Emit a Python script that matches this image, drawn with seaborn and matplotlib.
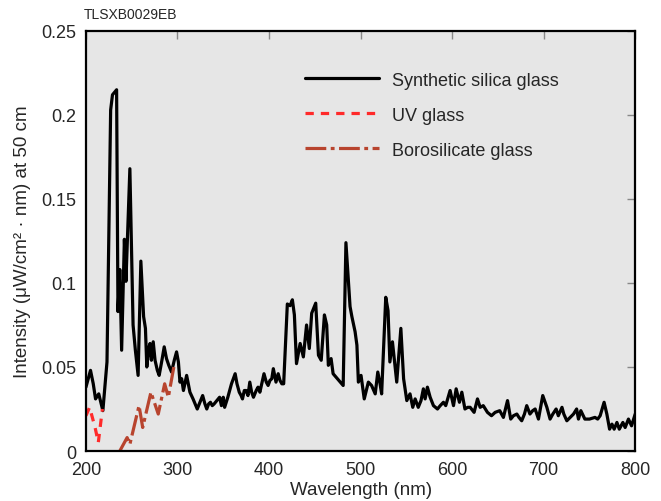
import numpy as np
import pandas as pd
import matplotlib
matplotlib.use("Agg")
import matplotlib.pyplot as plt
import seaborn as sns

# ---- data ----
silica_wl = [200, 203, 205, 208, 210.5, 214, 218.5, 223, 227, 229, 233.5, 235, 237, 239, 242, 243.7, 248,
             251.5, 254, 257, 260, 263, 265, 266.5, 268.5, 270, 271.5, 273.5, 275.5, 278, 280, 283, 285.5,
             288, 290.5, 293.5, 296.5, 299, 301, 302.7, 304.6, 306.5, 310, 313.6, 317, 321.6, 324.5, 327.5,
             330, 332, 334, 336, 338, 340, 343, 346, 348, 350, 351.5, 355, 359, 363, 365, 367.5, 369.5, 371,
             373, 375, 377, 379, 381, 383, 386, 388, 390, 392, 394.5, 397, 399, 401, 403, 404.7, 407.6, 410,
             412, 414, 416, 420, 423, 425.5, 427.7, 430, 434, 437.5, 441, 444, 446.6, 451, 454, 457, 460.5,
             463, 464.8, 467.8, 470, 481, 484, 488.5, 490.5, 494, 496, 497.6, 500.5, 504, 508.5, 512, 516,
             518.8, 521, 523, 527.5, 530, 532, 534.8, 539.5, 544, 547, 550.5, 554, 557, 559.6, 563, 566,
             568.6, 570.5, 573, 576, 579.6, 584, 587, 590.5, 593, 597.8, 601.5, 604.4, 608, 610.6, 614, 617,
             619.7, 624, 627.7, 630.6, 634, 638.6, 643, 647, 652, 656, 660.5, 664, 667, 670.7, 673, 676, 679,
             681.5, 685, 688, 690.7, 694.3, 699, 703.5, 707, 710, 713.6, 716, 720, 722, 725.3, 729, 732.6,
             736, 738, 740.6, 745, 750, 756, 759, 761.7, 766, 769, 772, 774.6, 777, 780, 782.6, 786.5, 789,
             792.6, 796, 800]
silica_int = [0.038, 0.044, 0.048, 0.040, 0.031, 0.034, 0.024, 0.053, 0.203, 0.212, 0.215, 0.083, 0.108, 0.060,
              0.126, 0.101, 0.168, 0.075, 0.060, 0.045, 0.113, 0.080, 0.073, 0.050, 0.061, 0.064, 0.054, 0.065,
              0.054, 0.048, 0.045, 0.054, 0.062, 0.055, 0.051, 0.047, 0.054, 0.059, 0.053, 0.041, 0.043, 0.036,
              0.045, 0.035, 0.031, 0.025, 0.029, 0.033, 0.028, 0.025, 0.028, 0.029, 0.027, 0.028, 0.030, 0.032,
              0.027, 0.032, 0.026, 0.032, 0.040, 0.046, 0.040, 0.035, 0.033, 0.031, 0.036, 0.036, 0.033, 0.041,
              0.035, 0.032, 0.036, 0.038, 0.035, 0.040, 0.046, 0.041, 0.039, 0.042, 0.043, 0.049, 0.041, 0.046,
              0.042, 0.040, 0.040, 0.0875, 0.0865, 0.090, 0.081, 0.052, 0.064, 0.056, 0.075, 0.061, 0.082, 0.088,
              0.057, 0.054, 0.081, 0.075, 0.051, 0.055, 0.046, 0.039, 0.124, 0.086, 0.080, 0.071, 0.063, 0.041,
              0.045, 0.031, 0.041, 0.039, 0.034, 0.047, 0.041, 0.034, 0.0915, 0.0835, 0.053, 0.065, 0.041, 0.073,
              0.043, 0.030, 0.034, 0.026, 0.031, 0.026, 0.030, 0.037, 0.031, 0.038, 0.032, 0.027, 0.025, 0.027,
              0.029, 0.027, 0.036, 0.027, 0.037, 0.029, 0.035, 0.025, 0.026, 0.026, 0.023, 0.031, 0.026, 0.027,
              0.023, 0.021, 0.023, 0.024, 0.020, 0.030, 0.019, 0.021, 0.022, 0.020, 0.018, 0.022, 0.027, 0.022,
              0.024, 0.025, 0.019, 0.033, 0.026, 0.019, 0.022, 0.025, 0.021, 0.026, 0.022, 0.018, 0.020, 0.022,
              0.025, 0.019, 0.024, 0.019, 0.019, 0.020, 0.019, 0.021, 0.029, 0.022, 0.013, 0.016, 0.013, 0.017,
              0.013, 0.017, 0.014, 0.019, 0.015, 0.022]

uv_wl = [200, 204, 207, 210, 213.5, 218]
uv_int = [0.021, 0.026, 0.020, 0.014, 0.005, 0.025]

boro_wl = [236, 245, 248, 258, 262, 271, 279, 286, 290, 296]
boro_int = [-0.001, 0.008, 0.004, 0.027, 0.014, 0.035, 0.022, 0.040, 0.032, 0.050]

series_names = ["Synthetic silica glass", "UV glass", "Borosilicate glass"]
x_ticks = [200, 300, 400, 500, 600, 700, 800]
y_ticks = [0, 0.05, 0.1, 0.15, 0.2, 0.25]
y_tick_labels = ["0", "0.05", "0.1", "0.15", "0.2", "0.25"]

df_si = pd.DataFrame({"wl": silica_wl, "val": silica_int})
df_uv = pd.DataFrame({"wl": uv_wl, "val": uv_int})
df_bo = pd.DataFrame({"wl": boro_wl, "val": boro_int})

sns.set_style("white")
plt.rcParams["font.family"] = ["Liberation Sans", "DejaVu Sans"]

fig = plt.figure(figsize=(6.61, 5.02), dpi=100)
ax = fig.add_axes([0.130, 0.0996, 0.831, 0.8367])
ax.set_facecolor("#e6e6e6")

sns.lineplot(data=df_si, x="wl", y="val", ax=ax, color="black", lw=2.3, sort=False,
             label=series_names[0])
sns.lineplot(data=df_uv, x="wl", y="val", ax=ax, color="#ff2a2a", lw=2.3, sort=False,
             linestyle=(0, (2.6, 2.2)), label=series_names[1])
sns.lineplot(data=df_bo, x="wl", y="val", ax=ax, color="#b8442e", lw=2.3, sort=False,
             linestyle=(0, (6.5, 1.4, 1.2, 1.4)), label=series_names[2])

ax.set_xlim(200, 800)
ax.set_ylim(0, 0.25)
ax.set_xticks(x_ticks)
ax.set_yticks(y_ticks)
ax.set_yticklabels(y_tick_labels)
ax.tick_params(direction="in", length=6, width=1, color="#888888", top=True, right=True,
               labelsize=13, pad=7)
ax.tick_params(axis="x", pad=7)
for s in ax.spines.values():
    s.set_linewidth(1.6)
    s.set_color("black")

ax.set_xlabel("Wavelength (nm)", fontsize=13.5, labelpad=2)
ax.set_ylabel("Intensity (μW/cm² · nm) at 50 cm", fontsize=13.5, labelpad=7)

leg = ax.legend(loc="upper left", bbox_to_anchor=(0.37, 0.942), frameon=False, fontsize=13,
                handlelength=4.1, handletextpad=0.7, labelspacing=1.0)

fig.text(0.126, 0.957, "TLSXB0029EB", fontsize=10, ha="left", va="bottom")

fig.savefig("out.png", dpi=100)
